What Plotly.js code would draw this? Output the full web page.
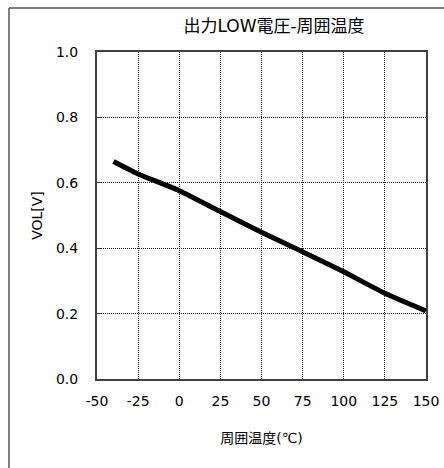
<!DOCTYPE html>
<html>
<head>
<meta charset="utf-8">
<script src="https://cdn.plot.ly/plotly-3.0.1.min.js"></script>
<style>
  html, body { margin: 0; padding: 0; background: #fff; }
  #chart { width: 444px; height: 468px; }
</style>
</head>
<body>
<div id="chart"></div>
<script>
// Output LOW voltage vs. ambient temperature
const temperature = [-40, -25, 0, 25, 50, 75, 100, 125, 150];
const vol = [0.665, 0.627, 0.576, 0.512, 0.449, 0.389, 0.328, 0.262, 0.208];
const xTicks = [-50, -25, 0, 25, 50, 75, 100, 125, 150];
const yTicks = [0.0, 0.2, 0.4, 0.6, 0.8, 1.0];

const latin = 'DejaVu Sans, Noto Sans CJK JP, sans-serif';

const trace = {
  x: temperature,
  y: vol,
  type: 'scatter',
  mode: 'lines',
  line: { color: '#000', width: 5, shape: 'spline', smoothing: 0.6 },
  hoverinfo: 'skip'
};

// chart-area frame: only the top and left edges fall inside the page
const frameLine = { color: '#555', width: 1.5 };

const layout = {
  width: 444,
  height: 468,
  margin: { l: 97, r: 18, t: 52, b: 89 },
  paper_bgcolor: '#fff',
  plot_bgcolor: '#fff',
  showlegend: false,
  font: { family: latin, color: '#000', size: 14 },
  title: {
    text: '出力LOW電圧-周囲温度',
    font: { family: latin, size: 17, color: '#000' },
    x: 0.538, xref: 'paper', xanchor: 'center',
    y: 37, yref: 'container', yanchor: 'middle'
  },
  xaxis: {
    range: [-50, 150],
    tickvals: xTicks,
    ticktext: xTicks.map(String),
    showgrid: true,
    gridcolor: '#222',
    griddash: '1px,1px',
    gridwidth: 1,
    zeroline: false,
    showline: true,
    linecolor: '#404040',
    linewidth: 2,
    mirror: true,
    ticks: '',
    ticklabelstandoff: 8,
    tickfont: { size: 14 },
    title: { text: '周囲温度(℃)', font: { size: 14 }, standoff: 25 }
  },
  yaxis: {
    range: [0, 1.0],
    tickvals: yTicks,
    ticktext: yTicks.map(v => v.toFixed(1)),
    showgrid: true,
    gridcolor: '#222',
    griddash: '1px,1px',
    gridwidth: 1,
    zeroline: false,
    showline: true,
    linecolor: '#404040',
    linewidth: 2,
    mirror: true,
    ticks: 'inside',
    ticklen: 4,
    tickcolor: '#404040',
    ticklabelstandoff: 14,
    tickfont: { size: 14 },
    title: { text: 'VOL[V]', font: { size: 14 }, standoff: 10 }
  },
  shapes: [
    {
      type: 'line', xref: 'paper', yref: 'paper',
      x0: -0.2675, x1: 1.1, y0: 1.1346, y1: 1.1346,
      line: frameLine, layer: 'below'
    },
    {
      type: 'line', xref: 'paper', yref: 'paper',
      x0: -0.2675, x1: -0.2675, y0: -0.3, y1: 1.1346,
      line: frameLine, layer: 'below'
    }
  ]
};

Plotly.newPlot('chart', [trace], layout, { displayModeBar: false, staticPlot: true });
</script>
</body>
</html>
